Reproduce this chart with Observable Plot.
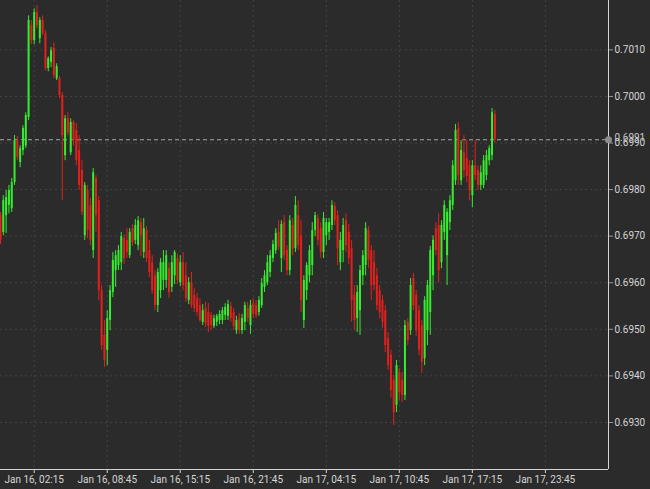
<!DOCTYPE html>
<html><head><meta charset="utf-8">
<script src="https://cdn.jsdelivr.net/npm/d3@7"></script>
<script src="https://cdn.jsdelivr.net/npm/@observablehq/plot@0.6"></script>
<style>
html,body{margin:0;padding:0;background:#2b2b2b;overflow:hidden;}
</style></head><body><div id="chart"></div>
<script>
// 15-minute bars starting at this time
const startTime = "2023-01-15T23:15:00Z";
const barMinutes = 15;

const opens = [
0.69744,0.69708,0.69744,0.69766,0.69759,0.69815,0.69905,0.69858,0.69884,0.69894,
0.69955,0.70152,0.70120,0.70180,0.70124,0.70163,0.70135,0.70060,0.70073,0.70103,
0.70038,0.70038,0.70002,0.69873,0.69952,0.69879,0.69944,0.69927,0.69884,0.69841,
0.69701,0.69798,0.69766,0.69669,0.69824,0.69776,0.69583,0.69487,0.69455,0.69519,
0.69579,0.69626,0.69637,0.69643,0.69695,0.69691,0.69658,0.69716,0.69691,0.69680,
0.69729,0.69665,0.69712,0.69669,0.69643,0.69615,0.69551,0.69583,0.69605,0.69605,
0.69630,0.69590,0.69615,0.69652,0.69600,0.69643,0.69615,0.69562,0.69600,0.69573,
0.69566,0.69551,0.69515,0.69545,0.69536,0.69530,0.69506,0.69515,0.69519,0.69519,
0.69530,0.69528,0.69549,0.69536,0.69497,0.69523,0.69497,0.69515,0.69545,0.69508,
0.69555,0.69551,0.69536,0.69551,0.69590,0.69600,0.69622,0.69652,0.69669,0.69708,
0.69652,0.69729,0.69669,0.69626,0.69723,0.69673,0.69744,0.69701,0.69519,0.69583,
0.69615,0.69637,0.69712,0.69738,0.69716,0.69665,0.69701,0.69708,0.69723,0.69764,
0.69744,0.69643,0.69669,0.69733,0.69708,0.69673,0.69573,0.69523,0.69540,0.69615,
0.69637,0.69712,0.69669,0.69643,0.69615,0.69583,0.69562,0.69540,0.69480,0.69444,
0.69390,0.69337,0.69407,0.69390,0.69358,0.69515,0.69497,0.69609,0.69573,0.69540,
0.69508,0.69437,0.69497,0.69536,0.69615,0.69716,0.69723,0.69643,0.69708,0.69658,
0.69729,0.69766,0.69819,0.69931,0.69819,0.69879,0.69867,0.69851,0.69787,0.69851,
0.69841,0.69809,0.69809,0.69830,0.69862,0.69873,0.69961
];
const highs = [
0.69751,0.69787,0.69798,0.69809,0.69824,0.69916,0.69914,0.69894,0.69937,0.69965,
0.70173,0.70163,0.70188,0.70195,0.70169,0.70173,0.70141,0.70085,0.70105,0.70115,
0.70070,0.70043,0.70008,0.69959,0.69965,0.69952,0.69948,0.69942,0.69916,0.69862,
0.69815,0.69809,0.69781,0.69845,0.69830,0.69785,0.69594,0.69519,0.69540,0.69594,
0.69665,0.69669,0.69680,0.69708,0.69703,0.69716,0.69716,0.69725,0.69736,0.69742,
0.69738,0.69738,0.69721,0.69691,0.69658,0.69626,0.69630,0.69652,0.69669,0.69669,
0.69643,0.69658,0.69669,0.69661,0.69658,0.69665,0.69643,0.69611,0.69622,0.69588,
0.69577,0.69566,0.69553,0.69558,0.69555,0.69536,0.69530,0.69532,0.69540,0.69547,
0.69555,0.69562,0.69558,0.69545,0.69528,0.69534,0.69532,0.69558,0.69558,0.69562,
0.69566,0.69562,0.69570,0.69609,0.69626,0.69658,0.69669,0.69691,0.69716,0.69733,
0.69733,0.69744,0.69680,0.69744,0.69738,0.69785,0.69776,0.69733,0.69615,0.69643,
0.69680,0.69729,0.69751,0.69746,0.69729,0.69751,0.69738,0.69738,0.69776,0.69772,
0.69755,0.69708,0.69738,0.69748,0.69725,0.69691,0.69594,0.69594,0.69637,0.69669,
0.69729,0.69721,0.69680,0.69669,0.69630,0.69594,0.69573,0.69551,0.69493,0.69455,
0.69401,0.69433,0.69416,0.69407,0.69519,0.69523,0.69609,0.69620,0.69583,0.69551,
0.69519,0.69570,0.69605,0.69678,0.69701,0.69729,0.69748,0.69733,0.69776,0.69759,
0.69787,0.69862,0.69940,0.69944,0.69905,0.69916,0.69905,0.69862,0.69862,0.69905,
0.69851,0.69851,0.69873,0.69884,0.69894,0.69974,0.69970
];
const lows = [
0.69682,0.69701,0.69706,0.69748,0.69751,0.69809,0.69862,0.69847,0.69873,0.69888,
0.69948,0.70111,0.70111,0.70146,0.70113,0.70130,0.70055,0.70053,0.70062,0.70038,
0.70034,0.69995,0.69776,0.69862,0.69916,0.69873,0.69894,0.69851,0.69798,0.69744,
0.69691,0.69695,0.69680,0.69652,0.69708,0.69562,0.69455,0.69418,0.69422,0.69497,
0.69568,0.69590,0.69626,0.69626,0.69639,0.69652,0.69652,0.69678,0.69682,0.69669,
0.69656,0.69652,0.69643,0.69611,0.69575,0.69540,0.69536,0.69566,0.69583,0.69588,
0.69566,0.69579,0.69596,0.69596,0.69592,0.69583,0.69558,0.69553,0.69545,0.69536,
0.69528,0.69515,0.69508,0.69504,0.69493,0.69497,0.69502,0.69506,0.69510,0.69510,
0.69519,0.69519,0.69515,0.69497,0.69489,0.69489,0.69489,0.69497,0.69515,0.69489,
0.69523,0.69523,0.69528,0.69545,0.69579,0.69594,0.69611,0.69643,0.69661,0.69669,
0.69622,0.69648,0.69615,0.69615,0.69658,0.69665,0.69669,0.69536,0.69502,0.69562,
0.69600,0.69615,0.69699,0.69680,0.69652,0.69652,0.69680,0.69691,0.69712,0.69723,
0.69637,0.69626,0.69643,0.69665,0.69639,0.69515,0.69497,0.69493,0.69487,0.69594,
0.69615,0.69630,0.69562,0.69583,0.69540,0.69523,0.69502,0.69450,0.69412,0.69352,
0.69294,0.69321,0.69347,0.69343,0.69347,0.69465,0.69487,0.69540,0.69485,0.69444,
0.69405,0.69422,0.69465,0.69487,0.69583,0.69658,0.69600,0.69630,0.69691,0.69594,
0.69712,0.69755,0.69809,0.69809,0.69809,0.69824,0.69815,0.69776,0.69761,0.69819,
0.69798,0.69798,0.69802,0.69819,0.69851,0.69862,0.69901
];
const closes = [
0.69691,0.69776,0.69783,0.69798,0.69815,0.69905,0.69869,0.69888,0.69931,0.69959,
0.70163,0.70120,0.70180,0.70152,0.70163,0.70135,0.70060,0.70081,0.70098,0.70045,
0.70064,0.70002,0.69916,0.69952,0.69922,0.69944,0.69905,0.69862,0.69809,0.69751,
0.69809,0.69712,0.69691,0.69836,0.69744,0.69583,0.69465,0.69433,0.69523,0.69583,
0.69648,0.69658,0.69669,0.69699,0.69652,0.69665,0.69708,0.69686,0.69723,0.69733,
0.69701,0.69716,0.69652,0.69622,0.69583,0.69551,0.69622,0.69643,0.69643,0.69658,
0.69579,0.69643,0.69665,0.69605,0.69643,0.69594,0.69566,0.69600,0.69551,0.69545,
0.69536,0.69519,0.69540,0.69512,0.69506,0.69508,0.69523,0.69528,0.69532,0.69540,
0.69547,0.69553,0.69523,0.69506,0.69519,0.69497,0.69523,0.69551,0.69523,0.69551,
0.69532,0.69530,0.69562,0.69598,0.69615,0.69643,0.69658,0.69682,0.69706,0.69676,
0.69725,0.69658,0.69626,0.69733,0.69673,0.69766,0.69680,0.69562,0.69605,0.69637,
0.69669,0.69712,0.69744,0.69691,0.69665,0.69738,0.69729,0.69729,0.69766,0.69733,
0.69673,0.69691,0.69723,0.69680,0.69652,0.69562,0.69519,0.69579,0.69626,0.69658,
0.69716,0.69648,0.69594,0.69594,0.69551,0.69536,0.69515,0.69465,0.69422,0.69369,
0.69321,0.69422,0.69364,0.69358,0.69508,0.69476,0.69594,0.69551,0.69497,0.69455,
0.69429,0.69562,0.69594,0.69669,0.69691,0.69669,0.69626,0.69723,0.69766,0.69751,
0.69776,0.69851,0.69927,0.69830,0.69884,0.69841,0.69828,0.69798,0.69851,0.69830,
0.69809,0.69836,0.69862,0.69873,0.69888,0.69965,0.69907
];

const xTickTimes = [
"2023-01-16T02:15:00Z","2023-01-16T08:45:00Z","2023-01-16T15:15:00Z","2023-01-16T21:45:00Z",
"2023-01-17T04:15:00Z","2023-01-17T10:45:00Z","2023-01-17T17:15:00Z","2023-01-17T23:45:00Z"
];
const yTickValues = [0.6930,0.6940,0.6950,0.6960,0.6970,0.6980,0.6990,0.7000,0.7010];
const xDomain = ["2023-01-15T23:15:00Z","2023-01-18T05:22:00Z"];
const yDomain = [0.69199, 0.70206];

const t0 = new Date(startTime);
const bars = opens.map((o, i) => ({
  date: new Date(+t0 + i * barMinutes * 60000),
  open: o, high: highs[i], low: lows[i], close: closes[i]
}));
const xTicks = xTickTimes.map(d => new Date(d));
const xEnd = new Date(xDomain[1]);
const lastClose = closes[closes.length - 1];
const green = "#36ec2e", red = "#e3201c";
const col = d => d.close >= d.open ? green : red;
const fmt4 = d3.format(".4f");

const chart = Plot.plot({
  width: 650, height: 489,
  marginLeft: 0, marginRight: 42, marginTop: 0, marginBottom: 20,
  style: {background: "#2b2b2b", color: "#d6d6d6", fontFamily: "Roboto, sans-serif", fontSize: "10px"},
  x: {type: "utc", domain: xDomain.map(d => new Date(d))},
  y: {domain: yDomain},
  marks: [
    Plot.gridX(xTicks, {stroke: "#434343", strokeOpacity: 1, strokeDasharray: "2,3"}),
    Plot.gridY(yTickValues, {stroke: "#434343", strokeOpacity: 1, strokeDasharray: "2,3"}),
    Plot.ruleY([lastClose], {stroke: "#a8a8a8", strokeDasharray: "4,3", strokeWidth: 1}),
    Plot.ruleX(bars, {x: "date", y1: "low", y2: "high", stroke: col, strokeWidth: 1}),
    Plot.ruleX(bars, {x: "date", y1: "open", y2: "close", stroke: col, strokeWidth: 2}),
    Plot.ruleX([xEnd], {stroke: "#d4d4d4", strokeWidth: 1}),
    Plot.ruleY([yDomain[0]], {stroke: "#d4d4d4", strokeWidth: 1}),
    Plot.axisX(xTicks, {tickFormat: d3.utcFormat("%b %d, %H:%M"), tickSize: 4, tickPadding: 2, stroke: "#d4d4d4", label: null}),
    Plot.axisY(yTickValues, {anchor: "right", tickFormat: fmt4, tickSize: 4, tickPadding: 2, stroke: "#9a9a9a", label: null}),
    Plot.dot([{x: xEnd, y: lastClose}], {x: "x", y: "y", r: 3.5, fill: "#8c8c8c", stroke: "none"}),
    Plot.text([{x: xEnd, y: lastClose}], {x: "x", y: "y", text: d => fmt4(d.y), dx: 6, dy: -2, textAnchor: "start", fill: "#c8c8c8"})
  ]
});
document.getElementById("chart").appendChild(chart);
</script>
</body></html>
